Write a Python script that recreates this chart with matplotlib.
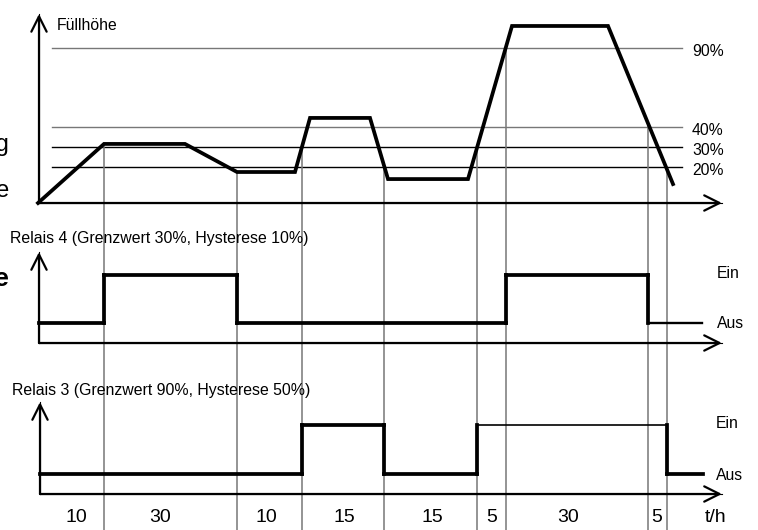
import numpy as np
import matplotlib
matplotlib.use("Agg")
import matplotlib.pyplot as plt

plt.rcParams['font.family'] = ['Liberation Sans', 'DejaVu Sans']

# Zeitabschnitte (Dauer in h) und ihre Grenzen auf der schematischen Zeitachse
dauer = [10, 30, 10, 15, 15, 5, 30, 5]
t_grenzen = [0, 66, 199, 264, 346, 439, 468, 610, 629]
dauer_pos = [38, 122, 228, 306, 394, 454, 530, 619]

# Verlauf der Füllhöhe (schematisch)
t_kurve = [0, 66, 147, 199, 257, 272, 332, 350, 430, 474, 570, 635]
h_kurve = [0, 34.3, 34.3, 18.0, 18.0, 49.4, 49.4, 13.9, 13.9, 102.8, 102.8, 11.0]

# Schwellwerte
schwellen_text = ['90%', '40%', '30%', '20%']
schwellen_pos = [90, 44.1, 32.5, 20.9]
schwellen_farbe = ['#777777', '#777777', 'black', 'black']

# Relais-Zustände (0 = Aus, 1 = Ein)
schalt4 = [1, 66, 199, 468, 610, 664]
zustand4 = [0, 1, 0, 1, 0]
breite4 = [2.7, 2.7, 2.7, 2.7, 1.7]

schalt3 = [2, 264, 346, 439, 629, 665]
zustand3 = [0, 1, 0, 1, 0]
breite3 = [2.7, 2.7, 2.7, 1.2, 2.7]

W, H = 758, 530
fig = plt.figure(figsize=(W / 100, H / 100), dpi=100)


def achse(oben, unten, ylim):
    ax = fig.add_axes([0, 1 - unten / H, 1, (unten - oben) / H])
    ax.set_xlim(-38, W - 38)
    ax.set_ylim(*ylim)
    ax.axis('off')
    return ax


def pfeil(ax, start, spitze):
    # Achsenlinie dünn, Pfeilspitze etwas kräftiger
    ax.plot([start[0], spitze[0]], [start[1], spitze[1]], color='black', lw=0.8)
    ax.annotate('', xy=spitze, xytext=start,
                arrowprops=dict(arrowstyle='->,head_length=1.1,head_width=0.55',
                                lw=1.6, color='black', shrinkA=0, shrinkB=0,
                                joinstyle='miter'))


def px(x, y, s, **kw):
    fig.text(x / W, 1 - y / H, s, **kw)


# 1. Füllhöhe
K = 1.722
ax1 = achse(0, 230, ((203 - 230) / K, 203 / K))
for pos, txt, farbe in zip(schwellen_pos, schwellen_text, schwellen_farbe):
    ax1.plot([14, 644], [pos, pos], color=farbe, lw=1.0)
    ax1.annotate(txt, (654, pos), xytext=(0, -2.5), textcoords='offset points',
                 va='center', ha='left', fontsize=11.3)
y_unten = ax1.get_ylim()[0]
for t in t_grenzen[1:]:
    ax1.plot([t, t], [np.interp(t, t_kurve, h_kurve), y_unten],
             color='#777777', lw=1.1)
ax1.plot(t_kurve, h_kurve, color='black', lw=2.7, solid_joinstyle='miter')
pfeil(ax1, (1, 0), (684, 0))
pfeil(ax1, (1, 0), (1, 109.8))
px(57, 25, 'Füllhöhe', fontsize=11.3, va='center')


def relais(ax, schalt, zustand, breite, x0, achse_y, spitze_y):
    for t in t_grenzen[1:]:
        ax.axvline(t, color='#777777', lw=1.1)
    for i, z in enumerate(zustand):
        ax.plot([schalt[i], schalt[i + 1]], [z, z], color='black', lw=breite[i],
                solid_capstyle='projecting')
        if i + 1 < len(zustand):
            ax.plot([schalt[i + 1], schalt[i + 1]], [z, zustand[i + 1]],
                    color='black', lw=2.7, solid_capstyle='projecting')
    pfeil(ax, (x0, achse_y), (684, achse_y))
    pfeil(ax, (x0, achse_y), (x0, spitze_y))


# 2. Relais 4
ax2 = achse(230, 370, ((323 - 370) / 48, (323 - 230) / 48))
relais(ax2, schalt4, zustand4, breite4, 1, (323 - 343) / 48, (323 - 252) / 48)
px(10, 239, 'Relais 4 (Grenzwert 30%, Hysterese 10%)', fontsize=11.4, va='center')
px(717, 273, 'Ein', fontsize=11.3, va='center')
px(717, 324, 'Aus', fontsize=11.3, va='center')

# 3. Relais 3
ax3 = achse(370, 530, ((474 - 530) / 49, (474 - 370) / 49))
relais(ax3, schalt3, zustand3, breite3, 2, (474 - 494) / 49, (474 - 402) / 49)
px(12, 390, 'Relais 3 (Grenzwert 90%, Hysterese 50%)', fontsize=11.4, va='center')
px(716, 423, 'Ein', fontsize=11.3, va='center')
px(716, 475, 'Aus', fontsize=11.3, va='center')

# Dauer der Abschnitte
for x, d in zip(dauer_pos, dauer):
    ax3.text(x, (474 - 517) / 49, str(d), ha='center', va='center', fontsize=14)
px(716, 517, 't/h', fontsize=14, ha='center', va='center')

# abgeschnittener Text am linken Rand (wie im Original nur teilweise sichtbar)
px(9, 145, 'Messung', fontsize=17, ha='right', va='center')
px(9, 191, 'Hysterese', fontsize=17, ha='right', va='center')
px(9, 279, 'Relaisausgänge', fontsize=19, ha='right', va='center', fontweight='bold')

fig.savefig('out.png', dpi=100)
